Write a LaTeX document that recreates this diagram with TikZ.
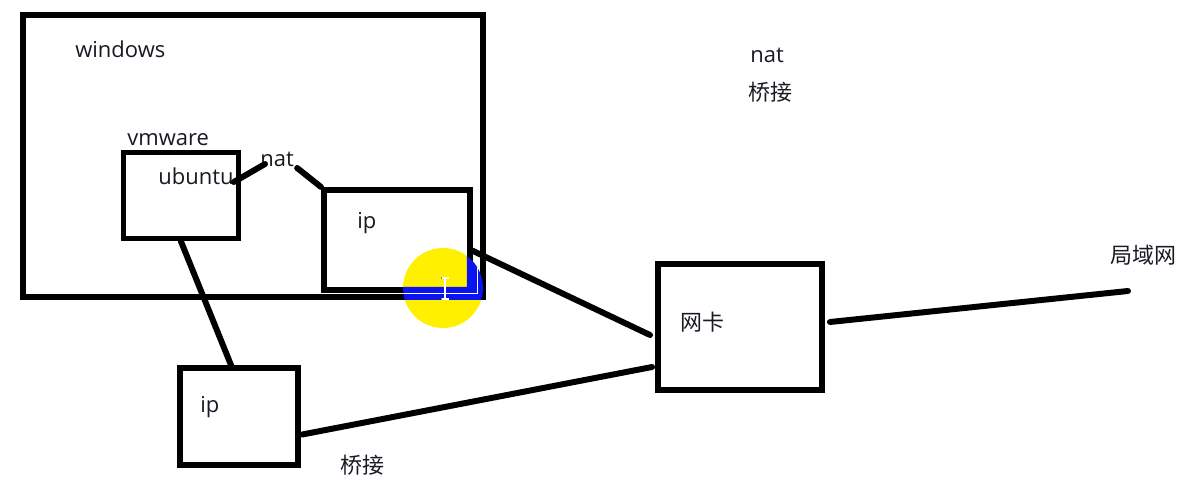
\documentclass[tikz,border=0pt]{standalone}
\usepackage{fontspec}
\setmainfont{Open Sans}
\newfontfamily\cjk{Noto Sans CJK SC}
\definecolor{hiyellow}{RGB}{255,240,0}
\definecolor{hiblue}{RGB}{10,20,240}
\definecolor{ink}{RGB}{25,25,35}

\begin{document}
\begin{tikzpicture}[x=0.02cm,y=-0.02cm,
    box/.style={draw=black,line width=3.4pt,inner sep=0pt},
    lbl/.style={inner sep=0pt,text=ink,font=\fontsize{12.5}{14}\selectfont},
    conn/.style={draw=black,line width=3.4pt,line cap=round}]
    \useasboundingbox (0,0) rectangle (1204,497);
    % cursor highlight
    \fill [hiyellow] (443,288) circle (40);
    % boxes
    \node [box,minimum width=9.2cm,minimum height=5.64cm] (win) at (253,156) {};
    \node [box,minimum width=2.3cm,minimum height=1.72cm] (ubb) at (181,195.5) {};
    \node [box,minimum width=2.92cm,minimum height=2cm] (ipa) at (397,240) {};
    \node [box,minimum width=2.37cm,minimum height=1.94cm] (ipb) at (239,416.5) {};
    \node [box,minimum width=3.28cm,minimum height=2.52cm] (wk) at (740,327) {};
    % selected strokes under the cursor
    \begin{scope}
        \clip (443,288) circle (40);
        \fill [hiblue] (win.south east) -- (win.south east |- ipa.north)
            -- ([shift={(-6,-6)}]ipa.south east |- ipa.north) -- ([shift={(-6,-6)}]ipa.south east)
            -- ([shift={(-6,-6)}]ipa.south east -| ipa.west) -- (win.south east -| ipa.west) -- cycle;
        \draw [white,line width=0.5pt] ([shift={(0,0.5)}]ipa.south west) -| ([shift={(4,0)}]ipa.north east);
    \end{scope}
    \draw [gray,line width=1.6pt] (445,278) -- (445,299) (441,278) -- (449,278) (441,299) -- (449,299);
    \draw [white,line width=0.6pt] (445,278) -- (445,299) (441.5,278) -- (448.5,278) (441.5,299) -- (448.5,299);
    % labels
    \node [lbl,anchor=base west] (winl) at (75,57) {windows};
    \node [lbl,anchor=base west] (vmw) at (127,145) {vmware};
    \node [lbl,anchor=base west] (ubt) at (158,184) {ubuntu};
    \node [lbl,anchor=base west] (natin) at (260,166) {nat};
    \node [lbl,anchor=base west] (ipal) at (357,228) {ip};
    \node [lbl,anchor=base west] (ipbl) at (200,412) {ip};
    \node [lbl,anchor=west] (wkl) at (680,322) {\cjk 网卡};
    \node [lbl,anchor=base west] (nattop) at (750,62) {nat};
    \node [lbl,anchor=west] (bjtop) at (748,92) {\cjk 桥接};
    \node [lbl,anchor=west] (bjlow) at (340,465) {\cjk 桥接};
    \node [lbl,anchor=west] (lanl) at (1110,255) {\cjk 局域网};
    \coordinate (lan) at (1128,291);
    % connectors
    \draw [conn] ([shift={(0,-2)}]ubt.base east) -- ([shift={(5,-2)}]natin.base west);
    \draw [conn] ([shift={(3,2)}]natin.base east) -- (ipa.north west);
    \draw [conn] ([shift={(-2,10)}]ipa.east) -- ([shift={(-5,8)}]wk.west);
    \draw [conn] (ubb.south) -- ([shift={(-8,0)}]ipb.north);
    \draw [conn] ([shift={(1,18)}]ipb.east) -- ([shift={(-3,40)}]wk.west);
    \draw [conn] ([shift={(5,-5)}]wk.east) -- (lan);
\end{tikzpicture}
\end{document}
